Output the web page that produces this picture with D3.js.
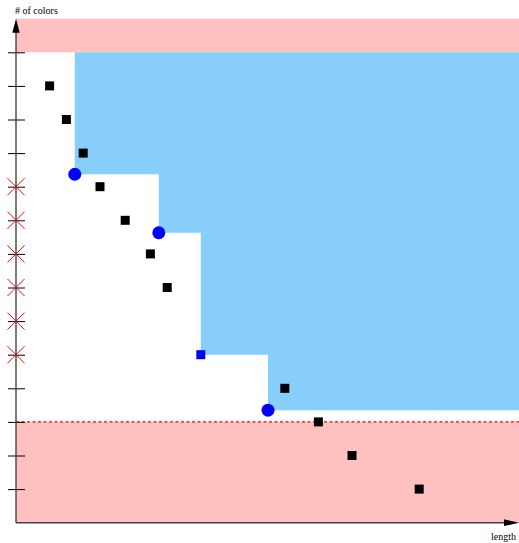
<!DOCTYPE html>
<html>
<head>
<meta charset="utf-8">
<script src="https://cdn.jsdelivr.net/npm/d3@7"></script>
<style>
  html, body { margin: 0; padding: 0; background: #fff; }
  svg { display: block; }
  text { font-family: "Liberation Serif", "DejaVu Serif", serif; font-size: 10px; fill: #000; }
</style>
</head>
<body>
<svg id="chart" width="519" height="543"></svg>
<script>
// Solutions found: (length, # of colors)
const pointLengths = [4, 6, 8, 10, 13, 16, 18, 32, 36, 40, 48];
const pointColors  = [13, 12, 11, 10, 9, 8, 7, 4, 3, 2, 1];

// Highlighted solution (blue square)
const specialLength = [22];
const specialColors = [5];

// Staircase corners of the dominated region (blue dots)
const cornerLengths = [7, 17, 30];
const cornerColors  = [10.37, 8.63, 3.35];

// Tick values on the colour axis, and those marked infeasible (red crosses)
const yTicks = [1, 2, 3, 4, 5, 6, 7, 8, 9, 10, 11, 12, 13, 14];
const crossedTicks = [5, 6, 7, 8, 9, 10];

// Bounds: upper/lower bound on colours and axis extent
const upperBound = [14];
const lowerBound = [3];
const axisMax = [15];

const svg = d3.select("#chart");
const x = d3.scaleLinear().domain([0, 60]).range([16, 520]);
const y = d3.scaleLinear().domain([0, 14]).range([522.7, 52.3]);

const pink = "#ffc0c0";
const sky = "#87cefa";

// Shaded bands outside the bounds
svg.append("rect")
  .attr("x", x(0)).attr("y", y(axisMax[0]))
  .attr("width", x(60) - x(0)).attr("height", y(upperBound[0]) - y(axisMax[0]))
  .attr("fill", pink);
svg.append("rect")
  .attr("x", x(0)).attr("y", y(lowerBound[0]))
  .attr("width", x(60) - x(0)).attr("height", y(0) - y(lowerBound[0]))
  .attr("fill", pink);

// Dominated region: staircase through the corner points and the highlighted solution
const stairX = [cornerLengths[0], cornerLengths[1], specialLength[0], cornerLengths[2], 60];
const stairY = [cornerColors[0], cornerColors[1], specialColors[0], cornerColors[2]];
const stair = [[stairX[0], upperBound[0]]];
for (let i = 0; i < stairY.length; i++) {
  stair.push([stairX[i], stairY[i]]);
  stair.push([stairX[i + 1], stairY[i]]);
}
stair.push([60, upperBound[0]]);
svg.append("path")
  .attr("d", d3.line().x(d => x(d[0])).y(d => y(d[1]))(stair) + "Z")
  .attr("fill", sky);

// Lower bound dashed line
svg.append("line")
  .attr("x1", x(0)).attr("x2", x(60))
  .attr("y1", y(lowerBound[0])).attr("y2", y(lowerBound[0]))
  .attr("stroke", "#ff0000").attr("stroke-width", 1.3)
  .attr("stroke-dasharray", "3,2.5");

// Ticks on the colour axis
const yAxis = svg.append("g")
  .attr("transform", `translate(${x(0) + 9},0)`)
  .call(d3.axisLeft(y).tickValues(yTicks).tickSize(17).tickFormat(""));
yAxis.select(".domain").remove();
yAxis.selectAll(".tick line").attr("stroke", "#000").attr("stroke-width", 1);

// Red crosses on infeasible colour counts
const cross = svg.append("g");
crossedTicks.forEach(v => {
  const cx = x(0), cy = y(v), s = 8.5;
  cross.append("line").attr("x1", cx - s).attr("y1", cy - s).attr("x2", cx + s).attr("y2", cy + s)
    .attr("stroke", "#ff0000").attr("stroke-width", 1);
  cross.append("line").attr("x1", cx - s).attr("y1", cy + s).attr("x2", cx + s).attr("y2", cy - s)
    .attr("stroke", "#ff0000").attr("stroke-width", 1);
});

// Axis lines with arrow heads
const axisColor = "#444";
svg.append("line")
  .attr("x1", x(0)).attr("x2", x(0)).attr("y1", y(0)).attr("y2", y(axisMax[0]) + 4)
  .attr("stroke", axisColor).attr("stroke-width", 1.4);
svg.append("line")
  .attr("x1", x(0)).attr("x2", 512).attr("y1", y(0)).attr("y2", y(0))
  .attr("stroke", axisColor).attr("stroke-width", 1.4);
svg.append("path")
  .attr("d", `M${x(0)},${y(axisMax[0])} L${x(0) - 3.7},${y(axisMax[0]) + 14} L${x(0) + 3.7},${y(axisMax[0]) + 14} Z`)
  .attr("fill", "#000");
svg.append("path")
  .attr("d", `M519,${y(0)} L504,${y(0) - 3.4} L504,${y(0) + 3.4} Z`)
  .attr("fill", "#000");

// Solutions
svg.append("g").selectAll("rect")
  .data(pointLengths.map((l, i) => [l, pointColors[i]]))
  .join("rect")
  .attr("x", d => x(d[0]) - 4.5).attr("y", d => y(d[1]) - 4.5)
  .attr("width", 9).attr("height", 9)
  .attr("fill", "#000");

svg.append("g").selectAll("rect")
  .data(specialLength.map((l, i) => [l, specialColors[i]]))
  .join("rect")
  .attr("x", d => x(d[0]) - 4.5).attr("y", d => y(d[1]) - 4.5)
  .attr("width", 9).attr("height", 9)
  .attr("fill", "#0000ff");

svg.append("g").selectAll("circle")
  .data(cornerLengths.map((l, i) => [l, cornerColors[i]]))
  .join("circle")
  .attr("cx", d => x(d[0])).attr("cy", d => y(d[1]))
  .attr("r", 6.5)
  .attr("fill", "#0000ff");

// Axis titles
svg.append("text").attr("x", 15).attr("y", 14).text("# of colors");
svg.append("text").attr("x", 516).attr("y", 540).attr("text-anchor", "end").text("length");
</script>
</body>
</html>
